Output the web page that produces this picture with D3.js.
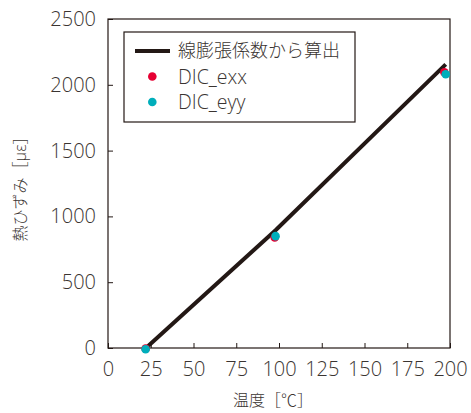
<!DOCTYPE html>
<html><head><meta charset="utf-8">
<script src="https://cdn.jsdelivr.net/npm/d3@7"></script>
<style>body{margin:0;background:#fff}text{font-family:"Open Sans","Noto Sans CJK JP",sans-serif;fill:#3a3431;font-weight:300}</style>
</head><body><svg id="c" width="471" height="413"></svg>
<script>
const xTicks=[0,25,50,75,100,125,150,175,200];
const yTicks=[0,500,1000,1500,2000,2500];
const calcLine=[{t:23,v:10},{t:98,v:895},{t:197.5,v:2155}];
const dicExx=[{t:22,v:-5},{t:97.5,v:840},{t:196.7,v:2095}];
const dicEyy=[{t:22,v:-10},{t:98,v:850},{t:197.5,v:2080}];
const legendLabels=["線膨張係数から算出","DIC_exx","DIC_eyy"];
const xLabel="温度［℃］", yLabel="熱ひずみ［με］";

const svg=d3.select("#c");
const L=108,R=450,T=19,B=348;
const x=d3.scaleLinear().domain([0,200]).range([L,R]);
const y=d3.scaleLinear().domain([0,2500]).range([B,T]);
const ink="#231815";
svg.append("rect").attr("x",L).attr("y",T).attr("width",R-L).attr("height",B-T).attr("fill","none").attr("stroke",ink).attr("stroke-width",1.2);
const xa=svg.append("g").attr("transform",`translate(0,${B})`).call(d3.axisBottom(x).tickValues(xTicks).tickFormat(d3.format("d")).tickSizeInner(-5).tickSizeOuter(0).tickPadding(11));
const ya=svg.append("g").attr("transform",`translate(${L},0)`).call(d3.axisLeft(y).tickValues(yTicks).tickFormat(d3.format("d")).tickSizeInner(-5).tickSizeOuter(0).tickPadding(12));
[xa,ya].forEach(a=>{a.select(".domain").remove();a.selectAll("line").attr("stroke",ink);a.selectAll("text").attr("font-size",20).attr("fill","#3a3431").style("font-family","'Open Sans',sans-serif").style("font-weight",300);});
xa.selectAll("text").attr("dy","0.85em");
svg.append("path").datum(calcLine).attr("d",d3.line().x(d=>x(d.t)).y(d=>y(d.v))).attr("stroke",ink).attr("stroke-width",4).attr("fill","none");
svg.selectAll(".exx").data(dicExx).join("circle").attr("cx",d=>x(d.t)).attr("cy",d=>y(d.v)).attr("r",4.3).attr("fill","#e60033");
svg.selectAll(".eyy").data(dicEyy).join("circle").attr("cx",d=>x(d.t)).attr("cy",d=>y(d.v)).attr("r",4.3).attr("fill","#00aebb");
// legend
svg.append("rect").attr("x",124).attr("y",32).attr("width",231).attr("height",90).attr("fill","#fff").attr("stroke",ink).attr("stroke-width",1.2);
svg.append("line").attr("x1",135).attr("x2",170).attr("y1",51).attr("y2",51).attr("stroke",ink).attr("stroke-width",4);
svg.append("circle").attr("cx",152.3).attr("cy",76.5).attr("r",4.3).attr("fill","#e60033");
svg.append("circle").attr("cx",152.3).attr("cy",102).attr("r",4.3).attr("fill","#00aebb");
const ly=[51,77,102];
legendLabels.forEach((s,i)=>svg.append("text").attr("x",178).attr("y",ly[i]).attr("dy","0.36em").attr("font-size",i===0?18:19.5).text(s));
svg.append("text").attr("x",273).attr("y",400).attr("text-anchor","middle").attr("dy","0.36em").attr("font-size",16).text(xLabel);
svg.append("text").attr("transform","translate(20,185) rotate(-90)").attr("text-anchor","middle").attr("dy","0.36em").attr("font-size",16).text(yLabel);
</script></body></html>
